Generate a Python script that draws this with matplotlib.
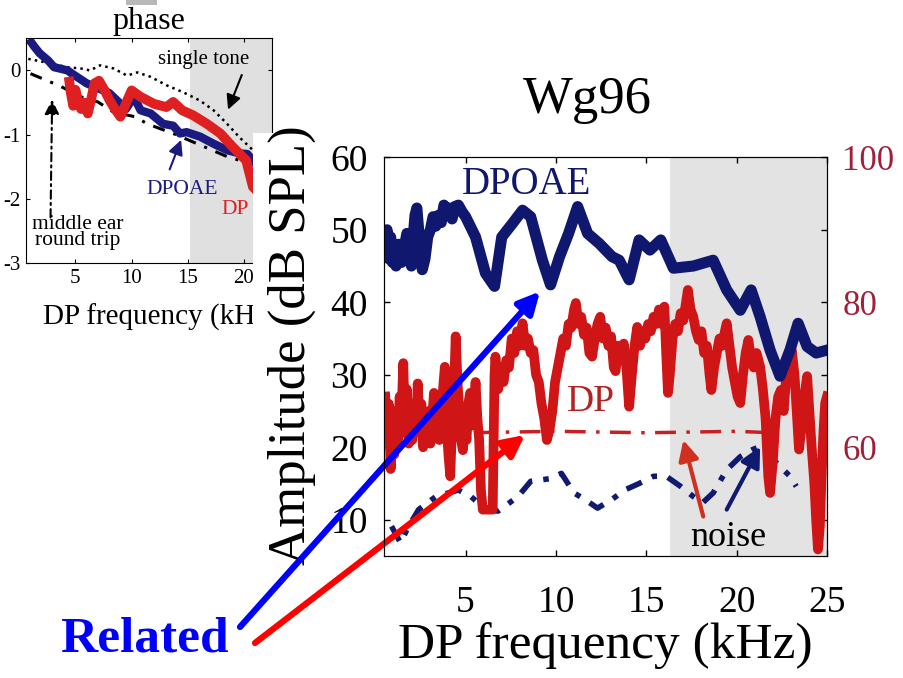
import matplotlib
matplotlib.use("Agg")
import matplotlib.pyplot as plt
from matplotlib.patches import Rectangle

plt.rcParams['font.family'] = ['Liberation Serif', 'DejaVu Serif']
plt.rcParams['axes.unicode_minus'] = False

# ---------------- main panel data (Wg96) ----------------
dpoae_f = [0.55, 0.65, 0.75, 0.85, 0.95, 1.05, 1.15, 1.3, 1.45, 1.6, 1.75, 1.9, 2.0, 2.1, 2.2, 2.3,
           2.4, 2.5, 2.6, 2.75, 2.9, 3.05, 3.2, 3.35, 3.5, 3.65, 3.8, 3.95, 4.1, 4.25, 4.4, 4.6,
           4.8, 5.0, 5.55, 6.1, 6.6, 7.0, 7.6, 8.15, 8.6, 9.25, 9.7, 10.2, 10.7, 11.2, 11.75, 12.4,
           13.1, 13.5, 14.05, 14.6, 15.2, 15.8, 16.5, 17.6, 18.7, 19.45, 20.2, 20.8, 21.3, 21.85,
           22.4, 22.95, 23.4, 23.9, 24.4, 25.0]
dpoae_v = [48, 50, 46, 49, 45.5, 47, 45, 48, 45.5, 47.5, 49.5, 46, 45, 49, 52, 53,
           50, 47, 44.5, 46, 49, 50, 51.8, 50.5, 52, 51, 53.4, 52.5, 53, 51.5, 53.2, 53.4,
           52.5, 51.8, 49, 44, 42.2, 49, 50.9, 52.7, 51.8, 45.8, 42.4, 46.3, 49.5, 53.2, 49.5, 48.1,
           46.3, 45.8, 43.1, 48.6, 47.2, 48.6, 44.7, 45, 45.8, 41.7, 38.9, 41.7, 38, 33.4,
           29.8, 33.4, 37.1, 33.9, 33, 33.4]

dp_f = [0.55, 0.65, 0.75, 0.85, 0.95, 1.05, 1.15, 1.25, 1.35, 1.45, 1.55, 1.65, 1.75, 1.85, 1.95,
        2.05, 2.15, 2.25, 2.35, 2.45, 2.55, 2.65, 2.75, 2.85, 2.95, 3.05, 3.15, 3.25, 3.35, 3.45,
        3.55, 3.65, 3.75, 3.85, 3.95, 4.05, 4.15, 4.25, 4.35, 4.45, 4.55, 4.65, 4.75, 4.85, 4.95,
        5.05, 5.15, 5.25, 5.35, 5.45, 5.55, 5.65, 5.75, 5.85, 5.95, 6.5, 6.6, 6.65, 6.8, 6.95,
        7.1, 7.25, 7.4, 7.55, 7.7, 7.85, 8.0, 8.15, 8.3, 8.45, 8.6, 8.75, 8.9, 9.05, 9.2, 9.35,
        9.5, 9.65, 9.8, 9.95, 10.1, 10.25, 10.4, 10.55, 10.7, 10.85, 11.0, 11.1, 11.25, 11.4,
        11.55, 11.7, 11.85, 12.0, 12.15, 12.3, 12.45, 12.6, 12.75, 12.9, 13.05, 13.2, 13.3, 13.45,
        13.6, 13.75, 13.9, 14.05, 14.2, 14.35, 14.5, 14.65, 14.8, 14.95, 15.1, 15.25, 15.4, 15.55,
        15.7, 15.85, 16.0, 16.1, 16.2, 16.3, 16.45, 16.6, 16.75, 16.9, 17.05, 17.2, 17.3, 17.45,
        17.6, 17.75, 17.9, 18.05, 18.2, 18.35, 18.5, 18.6, 18.75, 18.9, 19.05, 19.2, 19.35, 19.45,
        19.6, 19.75, 19.9, 20.05, 20.2, 20.35, 20.5, 20.65, 20.8, 20.95, 21.1, 21.3, 21.45, 21.6,
        21.75, 21.85, 22.0, 22.15, 22.3, 22.45, 22.6, 22.75, 22.9, 23.05, 23.2, 23.3, 23.45, 23.6,
        23.75, 23.9, 24.05, 24.15, 24.3, 24.4, 24.5, 24.6, 24.7, 24.8, 24.9, 25.0]
dp_v = [27, 22, 26, 17, 23, 19, 25, 21, 27, 24, 31.6, 22, 28, 20.5, 25,
        21, 26, 22, 28.8, 23, 26, 20, 24, 21, 25, 20.5, 24, 27.5, 22, 26,
        21, 24, 28, 31.1, 23, 19, 16, 23, 27, 35.3, 29, 25, 21, 19.6, 23,
        21, 26, 27.5, 23, 25, 29, 24, 21, 14, 11.4, 11.4, 30, 32.5, 28, 31,
        29, 32, 31, 35, 33, 36, 34, 37.1, 34, 35, 33, 33.4, 30, 29, 26, 24,
        21, 22.5, 25, 29, 31, 33, 35, 34, 37, 36.5, 39, 39.9, 37, 38,
        35.5, 36.5, 33, 32.5, 35, 37, 38, 35, 36.5, 34, 35.3, 31, 30.5, 34,
        32, 34.3, 31, 25.6, 30, 34, 36.6, 34, 36, 35, 37, 36, 38, 37,
        39, 37, 39.4, 33, 27.5, 30, 35, 37, 36, 38.5, 37.5, 40, 41.7, 39,
        38, 36, 34.8, 36, 33, 34, 30, 27.9, 31, 33, 35, 34, 36, 37.1,
        34, 31, 29, 27, 26.1, 30, 33, 34.8, 32, 31, 33, 31.1, 28, 24,
        16, 13.7, 18, 24, 27, 27.9, 25, 30, 31, 33.4, 30, 26, 19.7, 23,
        27, 29.8, 24, 20, 15, 10, 5.9, 9, 16, 22, 26.1, 27]

dp_noise_f = [0.5, 5, 10, 15, 20, 22]
dp_noise_v = [22, 22, 22.2, 22, 22.2, 22]

dpoae_noise_f = [0.9, 1.4, 1.8, 2.4, 3.35, 4.6, 5.3, 6.1, 6.8, 7.9, 8.6, 9.75, 10.3, 11.0, 11.6, 12.3,
                 13.1, 13.8, 14.6, 15.4, 16.1, 16.9, 17.6, 18.1, 18.7, 19.45, 20.2, 20.9, 21.3, 22.95, 23.3]
dpoae_noise_v = [9.1, 6.8, 8.9, 11.4, 13.2, 14.1, 13.2, 11.4, 11.2, 13.2, 15.3, 15.7, 16.4, 13.7, 12.8, 11.6,
                 12.8, 14.1, 15, 16, 16, 14.6, 13.2, 12.3, 13.7, 16.9, 18.7, 19.7, 20.1, 16, 14.6]

x_ticks = [5, 10, 15, 20, 25]
y_ticks = [10, 20, 30, 40, 50, 60]
right_ticks = [60, 80, 100]

# ---------------- inset (phase) data ----------------
ph_dpoae_f = [0.85, 1.3, 1.8, 2.2, 2.6, 3.1, 3.6, 4.3, 4.7, 6.0, 8.0, 9.5, 10.2, 10.8, 11.7, 12.8,
              13.7, 14.3, 14.9, 16.1, 17.3, 18.5, 19.6, 20.3, 20.8, 21.5]
ph_dpoae_v = [0.49, 0.38, 0.27, 0.21, 0.15, 0.05, 0.03, 0.0, -0.05, -0.2, -0.35, -0.6, -0.41, -0.62,
              -0.67, -0.83, -0.86, -0.98, -0.96, -1.03, -1.14, -1.24, -1.29, -1.3, -1.4, -1.45]
ph_dp_f = [4.4, 4.6, 4.8, 5.0, 5.2, 5.5, 5.8, 6.1, 6.4, 6.7, 7.1, 7.6, 8.0, 8.4, 9.0, 9.3, 9.6, 10.0,
           10.8, 12.0, 13.1, 13.7, 14.5, 15.5, 16.7, 17.9, 19.0, 20.2, 20.8, 21.3]
ph_dp_v = [-0.1, -0.36, -0.55, -0.3, -0.45, -0.6, -0.5, -0.67, -0.45, -0.2, -0.16, -0.31, -0.45, -0.57,
           -0.72, -0.6, -0.47, -0.31, -0.41, -0.52, -0.57, -0.49, -0.62, -0.7, -0.83, -0.98, -1.19,
           -1.4, -1.81, -1.9]
ph_tone_f = [0.8, 2.2, 4.3, 5.5, 6.3, 7.2, 8.4, 9.6, 10.5, 11.7, 13.1, 14.6, 16.1, 17.3, 18.5, 19.6,
             20.8, 21.5]
ph_tone_v = [0.18, 0.13, 0.05, 0.03, 0.0, 0.08, 0.03, -0.08, -0.03, -0.1, -0.23, -0.34, -0.47, -0.62,
             -0.83, -1.04, -1.24, -1.35]
ph_me_f = [1.0, 3.6, 5.5, 7.0, 8.4, 10.3, 11.4, 12.6, 13.7, 18.5, 20.4, 21.5]
ph_me_v = [-0.05, -0.24, -0.41, -0.49, -0.65, -0.72, -0.83, -0.91, -0.98, -1.34, -1.44, -1.5]
inset_x_ticks = [5, 10, 15, 20]
inset_y_ticks = [0, -1, -2, -3]

W, H = 904, 678
fig = plt.figure(figsize=(W / 100, H / 100), dpi=100)

# ---------------- inset ----------------
axi = fig.add_axes([26 / W, 1 - 263.3 / H, (272 - 26) / W, (263.3 - 38.3) / H])
axi.set_zorder(1)
axi.set_xlim(0.6, 22.5)
axi.set_ylim(-3, 0.5)
axi.axvspan(15.2, 22.5, color='#e0e0e0', lw=0, zorder=0)
axi.plot(ph_tone_f, ph_tone_v, color='black', ls=':', lw=1.8)
axi.plot(ph_me_f, ph_me_v, color='black', ls=(0, (4, 3, 1, 3)), lw=2.2)
axi.plot(ph_dpoae_f, ph_dpoae_v, color='#1a1a80', lw=6, solid_capstyle='butt')
axi.plot(ph_dp_f, ph_dp_v, color='#e02020', lw=7, solid_capstyle='butt')
axi.set_xticks(inset_x_ticks)
axi.set_yticks(inset_y_ticks)
axi.set_yticklabels([str(t) for t in inset_y_ticks])
axi.tick_params(direction='in', length=3, labelsize=15, pad=4, top=True, right=True)
axi.set_xlabel('DP frequency (kHz)', fontsize=21)
axi.xaxis.set_label_coords(0.545, -0.18)
axi.text(16.4, 0.17, 'single tone', fontsize=15, ha='center', va='center')
axi.annotate('', xy=(18.5, -0.65), xytext=(19.9, -0.03),
             arrowprops=dict(arrowstyle='-|>', color='black', lw=1.5, mutation_scale=22))
axi.text(14.5, -1.85, 'DPOAE', fontsize=15.5, color='#1a1a80', ha='center', va='center')
axi.annotate('', xy=(14.5, -1.04), xytext=(13.3, -1.58),
             arrowprops=dict(arrowstyle='-|>', color='#1a1a80', lw=1.5, mutation_scale=22))
axi.text(19.2, -2.17, 'DP', fontsize=15.5, color='#e02020', ha='center', va='center')
axi.text(5.2, -2.52, 'middle ear\nround trip', fontsize=15.5, ha='center', va='center',
         linespacing=0.8)
axi.annotate('', xy=(2.93, -0.41), xytext=(2.78, -2.33),
             arrowprops=dict(arrowstyle='-|>', color='black', lw=1.5, ls=(0, (4, 2, 1, 2)),
                             mutation_scale=22))
fig.text(149 / W, 1 - 21 / H, 'phase', fontsize=23, ha='center', va='center')
fig.patches.append(Rectangle((126 / W, 1 - 5 / H), 31 / W, 5 / H, transform=fig.transFigure,
                             facecolor='#b8b8b8', edgecolor='none', zorder=1.5))

# white backdrop of the main picture
fig.patches.append(Rectangle((253 / W, 0), 1, (H - 133) / H, transform=fig.transFigure,
                             facecolor='white', edgecolor='none', zorder=2))

# ---------------- main panel ----------------
ax = fig.add_axes([384.3 / W, 1 - 556 / H, (827 - 384.3) / W, (556 - 157.3) / H])
ax.set_zorder(3)
ax.set_xlim(0.5, 25)
ax.set_ylim(5, 60)
ax.axvspan(16.3, 25, color='#e3e3e3', lw=0, zorder=0)
ax.plot(dp_noise_f, dp_noise_v, color='#c82020', lw=2.5, ls=(0, (6, 3, 1, 3)), zorder=2)
ax.plot(dpoae_noise_f, dpoae_noise_v, color='#101a70', lw=4, ls=(0, (3, 2, 1, 2)), zorder=2)
ax.plot(dp_f, dp_v, color='#cf1515', lw=7, zorder=3)
ax.plot(dpoae_f, dpoae_v, color='#0f176e', lw=8, zorder=4)

ax.set_xticks(x_ticks)
ax.set_yticks(y_ticks)
ax.tick_params(direction='in', length=4.5, width=1, labelsize=27, top=True, right=True)
ax.tick_params(axis='x', pad=21)
ax.tick_params(axis='y', pad=12)
ax.set_xlabel('DP frequency (kHz)', fontsize=37, labelpad=2)
ax.set_ylabel('Amplitude (dB SPL)', fontsize=38, labelpad=6)
ax.yaxis.set_label_coords(-0.155, 0.53)

ax.text(8.38, 56.3, 'DPOAE', fontsize=28, color='#0f176e', ha='center', va='center', zorder=5)
ax.text(11.94, 26.3, 'DP', fontsize=27, color='#b52020', ha='center', va='center', zorder=5)
ax.text(19.52, 7.5, 'noise', fontsize=26, color='black', ha='center', va='center', zorder=5)
ax.annotate('', xy=(17.05, 21.0), xytext=(18.15, 10.45),
            arrowprops=dict(arrowstyle='-|>', color='#d03020', lw=3, mutation_scale=30,
                            shrinkA=0, shrinkB=0), zorder=5)
ax.annotate('', xy=(21.3, 20.1), xytext=(19.45, 11.4),
            arrowprops=dict(arrowstyle='-|>', color='#101a70', lw=3, mutation_scale=30,
                            shrinkA=0, shrinkB=0), zorder=5)

ax2 = ax.twinx()
ax2.set_zorder(4)
ax2.patch.set_visible(False)
ax2.set_ylim(45, 100)
ax2.set_yticks(right_ticks)
ax2.tick_params(axis='y', length=0, labelsize=25, pad=11, labelcolor='#a0203a')
ax.tick_params(axis='y', right=True, labelright=False)

# big "Related" arrows
ax.annotate('', xy=(9.12, 41.5), xytext=(240, H - 627), textcoords='figure pixels',
            arrowprops=dict(arrowstyle='-|>', color='#0000ff', lw=4.5, mutation_scale=32,
                            shrinkA=0, shrinkB=0), annotation_clip=False, zorder=6)
ax.annotate('', xy=(8.29, 21.7), xytext=(255, H - 643), textcoords='figure pixels',
            arrowprops=dict(arrowstyle='-|>', color='#ff0000', lw=4.5, mutation_scale=32,
                            shrinkA=0, shrinkB=0), annotation_clip=False, zorder=6)

fig.text(144 / W, 1 - 640 / H, 'Related', fontsize=37, fontweight='bold', color='#0000ff',
         ha='center', va='center')
fig.text(587 / W, 1 - 100 / H, 'Wg96', fontsize=38, ha='center', va='center')

fig.savefig('out.png', dpi=100)
